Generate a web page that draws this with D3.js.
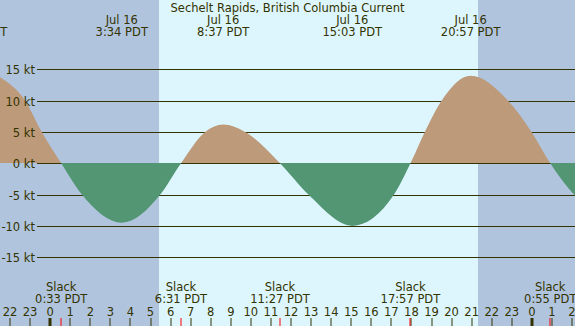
<!DOCTYPE html>
<html>
<head>
<meta charset="utf-8">
<script src="https://cdn.jsdelivr.net/npm/d3@7"></script>
<style>
  body { margin: 0; background: #fff; }
  svg { display: block; }
  text { font-family: "DejaVu Sans"; font-size: 11.5px; fill: #333300; }
</style>
</head>
<body>
<svg width="575" height="326"></svg>
<script>
var width = 575;
var height = 326;
var parse = d3.timeParse("%m-%d %H:%M");

var title = "Sechelt Rapids, British Columbia Current";
var viewStart = "07-15 21:30";
var viewEnd = "07-17 02:09";

// knots grid
var knotTicks = [15, 10, 5, 0, -5, -10, -15];

// daylight window (sunrise, sunset)
var sunrise = "07-16 05:26";
var sunset = "07-16 21:19";

// current readings taken off the curve
var curveTimes = ["07-15 20:23", "07-15 21:31", "07-15 22:45", "07-15 23:35", "07-16 00:33",
    "07-16 01:35", "07-16 03:34", "07-16 05:29", "07-16 06:31", "07-16 07:43",
    "07-16 08:37", "07-16 09:43", "07-16 11:27", "07-16 12:52", "07-16 15:03",
    "07-16 17:08", "07-16 17:57", "07-16 18:40", "07-16 19:30", "07-16 20:57",
    "07-16 22:49", "07-16 23:59", "07-17 00:55", "07-17 02:06", "07-17 04:00"];
var curveKnots = [15.0, 13.7, 10, 5, 0,
    -5, -9.5, -5, 0, 5,
    6.2, 5, 0, -5, -10.0,
    -5, 0, 5, 10, 14.0,
    10, 5, 0, -5, -9.0];

// max / min flow events (top labels)
var extremeTimes = ["07-15 20:23", "07-16 03:34", "07-16 08:37", "07-16 15:03", "07-16 20:57"];
var extremeDays = ["Jul 15", "Jul 16", "Jul 16", "Jul 16", "Jul 16"];
var extremeLabels = ["20:23 PDT", "3:34 PDT", "8:37 PDT", "15:03 PDT", "20:57 PDT"];

// slack water events (bottom labels)
var slackTimes = ["07-16 00:33", "07-16 06:31", "07-16 11:27", "07-16 17:57", "07-17 00:55"];
var slackLabels = ["0:33 PDT", "6:31 PDT", "11:27 PDT", "17:57 PDT", "0:55 PDT"];

var nightColor = "#b0c4de";
var dayColor = "#ddf6fe";
var floodColor = "#bd9a7a";
var ebbColor = "#529673";
var inkColor = "#333300";

var svg = d3.select("svg");

var xScale = d3.scaleTime()
    .domain([parse(viewStart), parse(viewEnd)])
    .range([0, width]);
var yScale = d3.scaleLinear().domain([-15, 15]).range([257.2, 69.4]);
var zeroRow = Math.round(yScale(0));

var curve = curveTimes.map(function (t, i) {
    return { t: parse(t), v: curveKnots[i] };
});

// background: night then day
svg.append("rect")
    .attr("width", width).attr("height", height)
    .attr("fill", nightColor);
svg.append("rect")
    .attr("x", Math.round(xScale(parse(sunrise))))
    .attr("width", Math.round(xScale(parse(sunset))) - Math.round(xScale(parse(sunrise))))
    .attr("height", height)
    .attr("fill", dayColor);

// grid lines
svg.append("g")
    .selectAll("line")
    .data(knotTicks)
    .enter()
    .append("line")
    .attr("x1", 37)
    .attr("x2", width)
    .attr("y1", d => Math.round(yScale(d)) + 0.5)
    .attr("y2", d => Math.round(yScale(d)) + 0.5)
    .attr("stroke", inkColor)
    .attr("stroke-width", 1);

// clips for flood / ebb
var defs = svg.append("defs");
defs.append("clipPath").attr("id", "above")
    .append("rect").attr("width", width).attr("height", zeroRow);
defs.append("clipPath").attr("id", "below")
    .append("rect").attr("y", zeroRow).attr("width", width).attr("height", height - zeroRow);

var area = d3.area()
    .x(d => xScale(d.t))
    .y0(zeroRow)
    .y1(d => yScale(d.v))
    .curve(d3.curveMonotoneX);

svg.append("path")
    .datum(curve)
    .attr("clip-path", "url(#above)")
    .attr("fill", floodColor)
    .attr("d", area);

// zero line shows over the flood fill
svg.append("line")
    .attr("x1", 37).attr("x2", width)
    .attr("y1", zeroRow + 0.5).attr("y2", zeroRow + 0.5)
    .attr("stroke", inkColor);

svg.append("path")
    .datum(curve)
    .attr("clip-path", "url(#below)")
    .attr("fill", ebbColor)
    .attr("d", area);

// y labels
svg.append("g")
    .selectAll("text")
    .data(knotTicks)
    .enter()
    .append("text")
    .attr("x", 35)
    .attr("y", d => Math.round(yScale(d)) + 5)
    .attr("text-anchor", "end")
    .text(d => d + " kt");

// title
svg.append("text")
    .attr("x", width / 2)
    .attr("y", 12)
    .attr("text-anchor", "middle")
    .text(title);

// extremes at top
var topLabels = svg.append("g")
    .selectAll("g")
    .data(extremeTimes)
    .enter()
    .append("g")
    .attr("transform", d => "translate(" + xScale(parse(d)) + ",0)");
topLabels.append("text")
    .attr("y", 24)
    .attr("text-anchor", "middle")
    .text((d, i) => extremeDays[i]);
topLabels.append("text")
    .attr("y", 36)
    .attr("text-anchor", "middle")
    .text((d, i) => extremeLabels[i]);

// slack at bottom
var slackLabelsG = svg.append("g")
    .selectAll("g")
    .data(slackTimes)
    .enter()
    .append("g")
    .attr("transform", d => "translate(" + xScale(parse(d)) + ",0)");
slackLabelsG.append("text")
    .attr("y", 291)
    .attr("text-anchor", "middle")
    .text("Slack");
slackLabelsG.append("text")
    .attr("y", 303)
    .attr("text-anchor", "middle")
    .text((d, i) => slackLabels[i]);

// hour axis
var hours = xScale.ticks(d3.timeHour.every(1));
var hourAxis = svg.append("g");
hourAxis.selectAll("text")
    .data(hours)
    .enter()
    .append("text")
    .attr("x", d => xScale(d))
    .attr("y", 316)
    .attr("text-anchor", "middle")
    .text(d => d.getHours());
hourAxis.selectAll("rect.hour")
    .data(hours)
    .enter()
    .append("rect")
    .attr("class", "hour")
    .attr("x", d => d.getHours() === 0 ? Math.round(xScale(d)) - 1.5 : Math.round(xScale(d)) - 0.5)
    .attr("y", 318)
    .attr("width", d => d.getHours() === 0 ? 3 : 1)
    .attr("height", 8)
    .attr("fill", inkColor);
hourAxis.selectAll("rect.slack")
    .data(slackTimes)
    .enter()
    .append("rect")
    .attr("class", "slack")
    .attr("x", d => Math.round(xScale(parse(d))) - 0.5)
    .attr("y", 318)
    .attr("width", 1)
    .attr("height", 8)
    .attr("fill", "#ff0000");
</script>
</body>
</html>
